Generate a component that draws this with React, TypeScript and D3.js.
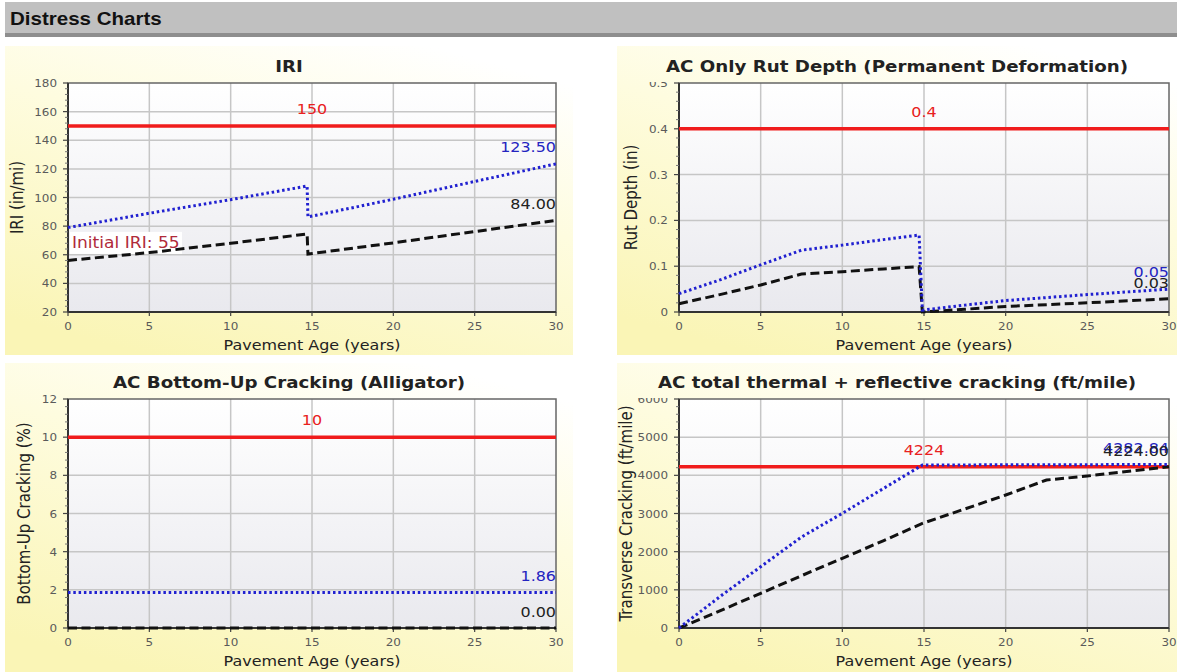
import * as d3 from "d3";

// horizontal stretch of the original screenshot text
const SX = 1.14;
const FONT = "'DejaVu Sans', Verdana, sans-serif";

const xTicks = [0, 5, 10, 15, 20, 25, 30];

// IRI (in/mi)
const iriYears = [0, 5, 10, 14.7, 14.75, 20, 25, 30];
const iriReliability = [79, 89, 98.5, 108, 86.4, 98.8, 111.2, 123.5];
const iriPredicted = [56, 61.5, 68, 74.5, 60.5, 68.3, 76.2, 84];
const iriTicks = [20, 40, 60, 80, 100, 120, 140, 160, 180];
const iriLimit = 150;
const iriInitial = 55;

// AC rut depth (in)
const rutYears = [0, 2.5, 5, 7.5, 10, 12.5, 14.7, 14.9, 17.5, 20, 25, 30];
const rutReliability = [0.04, 0.07, 0.103, 0.135, 0.146, 0.158, 0.168, 0.004, 0.015, 0.025, 0.038, 0.05];
const rutPredicted = [0.018, 0.038, 0.059, 0.083, 0.088, 0.094, 0.099, 0, 0.006, 0.012, 0.02, 0.029];
const rutTicks = [0, 0.1, 0.2, 0.3, 0.4, 0.5];
const rutLimit = 0.4;

// bottom-up cracking (%)
const bucYears = [0, 30];
const bucReliability = [1.86, 1.86];
const bucPredicted = [0, 0];
const bucTicks = [0, 2, 4, 6, 8, 10, 12];
const bucLimit = 10;

// thermal + reflective cracking (ft/mile)
const tcYears = [0, 2.5, 5, 7.5, 10, 12.5, 14.9, 20, 22.5, 25, 30];
const tcReliability = [0, 820, 1606, 2384, 3005, 3650, 4270, 4276, 4278, 4280, 4282.84];
const tcPredicted = [0, 450, 908, 1370, 1825, 2285, 2740, 3484, 3877, 3982, 4224];
const tcTicks = [0, 1000, 2000, 3000, 4000, 5000, 6000];
const tcLimit = 4224;

interface Spec {
  title: string;
  yTitle: string;
  years: number[];
  rel: number[];
  pred: number[];
  ticks: number[];
  limit: number;
  limitLabel: string;
  relLabel: string;
  predLabel: string;
}

interface Box {
  px0: number; px1: number; py0: number; py1: number;
  l: number; r: number; t: number; b: number;
  yTitleX: number;
  clipTicks: boolean;
}

function HText(props: any) {
  const { x, y, size, fill, weight, anchor, children, family } = props;
  return (
    <text
      transform={`translate(${x},${y}) scale(${SX},1)`}
      fontSize={size}
      fill={fill}
      fontWeight={weight || "normal"}
      textAnchor={anchor || "start"}
      fontFamily={family || FONT}
    >
      {children}
    </text>
  );
}

function Chart({ spec, box, id, extra }: { spec: Spec; box: Box; id: string; extra?: any }) {
  const x = d3.scaleLinear().domain([0, 30]).range([box.l, box.r]);
  const y = d3
    .scaleLinear()
    .domain([spec.ticks[0], spec.ticks[spec.ticks.length - 1]])
    .range([box.b, box.t]);
  const line = d3
    .line<number>()
    .x((_, i) => x(spec.years[i]))
    .y((d) => y(d));
  const minor: number[] = [];
  for (let i = 0; i < spec.ticks.length - 1; i++) {
    const step = (spec.ticks[i + 1] - spec.ticks[i]) / 5;
    for (let k = 1; k < 5; k++) minor.push(spec.ticks[i] + step * k);
  }
  const cx = (box.px0 + box.px1) / 2;
  const lastRel = spec.rel[spec.rel.length - 1];
  const lastPred = spec.pred[spec.pred.length - 1];
  return (
    <g>
      <rect x={box.px0} y={box.py0} width={box.px1 - box.px0} height={box.py1 - box.py0} fill="url(#panelBg)" />
      <clipPath id={id + "clip"}>
        <rect x={box.px0} y={box.clipTicks ? box.t - 1 : box.py0} width={box.l - box.px0} height={box.py1 - box.py0} />
      </clipPath>
      <HText x={cx} y={box.t - 11} size={16} weight="bold" fill="#222" anchor="middle">
        {spec.title}
      </HText>
      <rect x={box.l} y={box.t} width={box.r - box.l} height={box.b - box.t} fill="url(#plotBg)" />
      {spec.ticks.slice(1, -1).map((t) => (
        <line key={"h" + t} x1={box.l} x2={box.r} y1={y(t)} y2={y(t)} stroke="#c6c6c6" strokeWidth={1.5} />
      ))}
      {xTicks.slice(1, -1).map((t) => (
        <line key={"v" + t} x1={x(t)} x2={x(t)} y1={box.t} y2={box.b} stroke="#c6c6c6" strokeWidth={1.5} />
      ))}
      <rect x={box.l} y={box.t} width={box.r - box.l} height={box.b - box.t} fill="none" stroke="#666" strokeWidth={1.5} />
      <line x1={box.l} x2={box.l} y1={box.t} y2={box.b} stroke="#333" strokeWidth={2} />
      <line x1={box.l} x2={box.r} y1={box.b} y2={box.b} stroke="#333" strokeWidth={2} />
      {spec.ticks.map((t) => (
        <line key={"yt" + t} x1={box.l - 5} x2={box.l} y1={y(t)} y2={y(t)} stroke="#444" strokeWidth={1.2} />
      ))}
      {minor.map((t, i) => (
        <line key={"ym" + i} x1={box.l - 3} x2={box.l} y1={y(t)} y2={y(t)} stroke="#777" strokeWidth={1} />
      ))}
      {xTicks.map((t) => (
        <line key={"xt" + t} x1={x(t)} x2={x(t)} y1={box.b} y2={box.b + 4} stroke="#444" strokeWidth={1.2} />
      ))}
      <g clipPath={`url(#${id}clip)`}>
        {spec.ticks.map((t) => (
          <HText key={"yl" + t} x={box.l - 11} y={y(t) + 4} size={10.5} fill="#5a5a5a" anchor="end">
            {String(t)}
          </HText>
        ))}
      </g>
      {xTicks.map((t) => (
        <HText key={"xl" + t} x={x(t)} y={box.b + 18} size={10.5} fill="#5a5a5a" anchor="middle">
          {String(t)}
        </HText>
      ))}
      <HText x={(box.l + box.r) / 2} y={box.b + 38} size={14} fill="#222" anchor="middle">
        Pavement Age (years)
      </HText>
      <text
        transform={`translate(${box.yTitleX},${(box.t + box.b) / 2}) scale(${SX},1) rotate(-90)`}
        fontSize={15}
        fill="#222"
        textAnchor="middle"
        fontFamily={FONT}
      >
        {spec.yTitle}
      </text>
      <line x1={box.l} x2={box.r} y1={y(spec.limit)} y2={y(spec.limit)} stroke="#f01c1c" strokeWidth={3.5} />
      <HText x={x(15)} y={y(spec.limit) - 12} size={14} fill="#e82020" anchor="middle">
        {spec.limitLabel}
      </HText>
      {extra ? extra(x, y) : null}
      <path d={line(spec.pred) || ""} fill="none" stroke="#111" strokeWidth={3} strokeDasharray="9,4.5" />
      <path d={line(spec.rel) || ""} fill="none" stroke="#2020d0" strokeWidth={3} strokeDasharray="2.5,2.8" />
      <HText x={box.r} y={y(lastRel) - 12} size={14} fill="#2424c0" anchor="end">
        {spec.relLabel}
      </HText>
      <HText x={box.r} y={y(lastPred) - 11} size={14} fill="#222" anchor="end">
        {spec.predLabel}
      </HText>
    </g>
  );
}

const iriSpec: Spec = {
  title: "IRI",
  yTitle: "IRI (in/mi)",
  years: iriYears,
  rel: iriReliability,
  pred: iriPredicted,
  ticks: iriTicks,
  limit: iriLimit,
  limitLabel: "150",
  relLabel: "123.50",
  predLabel: "84.00",
};
const rutSpec: Spec = {
  title: "AC Only Rut Depth (Permanent Deformation)",
  yTitle: "Rut Depth (in)",
  years: rutYears,
  rel: rutReliability,
  pred: rutPredicted,
  ticks: rutTicks,
  limit: rutLimit,
  limitLabel: "0.4",
  relLabel: "0.05",
  predLabel: "0.03",
};
const bucSpec: Spec = {
  title: "AC Bottom-Up Cracking (Alligator)",
  yTitle: "Bottom-Up Cracking (%)",
  years: bucYears,
  rel: bucReliability,
  pred: bucPredicted,
  ticks: bucTicks,
  limit: bucLimit,
  limitLabel: "10",
  relLabel: "1.86",
  predLabel: "0.00",
};
const tcSpec: Spec = {
  title: "AC total thermal + reflective cracking (ft/mile)",
  yTitle: "Transverse Cracking (ft/mile)",
  years: tcYears,
  rel: tcReliability,
  pred: tcPredicted,
  ticks: tcTicks,
  limit: tcLimit,
  limitLabel: "4224",
  relLabel: "4282.84",
  predLabel: "4224.00",
};

export default function App() {
  const top = { py0: 46, py1: 355, t: 83, b: 312 };
  const bot = { py0: 363, py1: 672, t: 399, b: 628 };
  const left = { px0: 5, px1: 573, l: 68, r: 556 };
  const right = { px0: 617, px1: 1177, l: 679, r: 1169 };
  return (
    <div style={{ position: "absolute", left: 0, top: 0 }}>
      <svg width={1177} height={672} style={{ display: "block", background: "#fff" }}>
        <defs>
          <linearGradient id="panelBg" x1="0.75" y1="0" x2="0.25" y2="1">
            <stop offset="0" stopColor="#ffffff" />
            <stop offset="0.4" stopColor="#fefcdf" />
            <stop offset="1" stopColor="#faf5b6" />
          </linearGradient>
          <linearGradient id="plotBg" x1="0" y1="0" x2="0" y2="1">
            <stop offset="0" stopColor="#ffffff" />
            <stop offset="1" stopColor="#e9e9ee" />
          </linearGradient>
        </defs>
        <rect x={5} y={2} width={1172} height={32} fill="#c0c0c0" />
        <rect x={5} y={33} width={1172} height={4} fill="#8e8e8e" />
        <HText x={10} y={25} size={18} weight="bold" fill="#111" family="'Liberation Sans', Arial, sans-serif">
          Distress Charts
        </HText>
        <Chart
          id="iri"
          spec={iriSpec}
          box={{ ...left, ...top, yTitleX: 23, clipTicks: false }}
          extra={(x: any, y: any) => (
            <g>
              <rect x={x(0) + 2} y={y(iriInitial) - 30} width={112} height={22} fill="#fff" />
              <HText x={x(0) + 4} y={y(iriInitial) - 14} size={15} fill="#b02a3a">
                {"Initial IRI: " + iriInitial}
              </HText>
            </g>
          )}
        />
        <Chart id="rut" spec={rutSpec} box={{ ...right, ...top, yTitleX: 637, clipTicks: true }} />
        <Chart id="buc" spec={bucSpec} box={{ ...left, ...bot, yTitleX: 30, clipTicks: false }} />
        <Chart id="tc" spec={tcSpec} box={{ ...right, ...bot, yTitleX: 632, clipTicks: true }} />
      </svg>
    </div>
  );
}
